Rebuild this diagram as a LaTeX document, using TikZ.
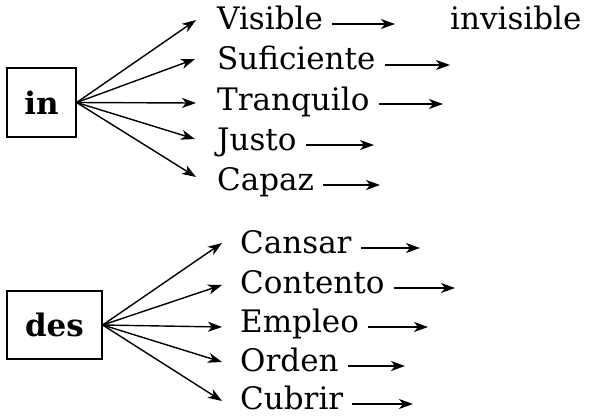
\documentclass[tikz,border=0pt]{standalone}
\usepackage{fontspec}
\setmainfont{DejaVu Serif}
\usetikzlibrary{arrows.meta}
\begin{document}
\begin{tikzpicture}[x=1pt,y=-1pt,
  wordlbl/.style={anchor=base west, inner sep=0pt, font=\fontsize{31}{36}\selectfont},
  prefbox/.style={draw, line width=1.3pt, inner sep=0pt, font=\fontsize{31}{36}\selectfont\bfseries},
  fanarr/.style={line width=1.4pt, -{Stealth[length=14pt,width=10pt,inset=4pt]}},
  shortarr/.style={line width=1.4pt, -{Stealth[length=14pt,width=10pt,inset=4pt]}}]
\useasboundingbox (0,0) rectangle (590,416);
% top group
\node[prefbox, minimum width=69pt, minimum height=69pt] (in) at (41.5,102.5) {in};
\coordinate (t1) at (196,20);
\coordinate (t2) at (195,59);
\coordinate (t3) at (196,103);
\coordinate (t4) at (195,139);
\coordinate (t5) at (196,177);
\foreach \i in {1,...,5} \draw[fanarr] (in.east) -- (t\i);
\node[wordlbl] (a1) at (217,29) {Visible};
\node[wordlbl] (a2) at (217,69) {Suficiente};
\node[wordlbl] (a3) at (217,110) {Tranquilo};
\node[wordlbl] (a4) at (217,150) {Justo};
\node[wordlbl] (a5) at (217,190) {Capaz};
\node[wordlbl] (inv) at (450,29) {invisible};
\coordinate (ae1) at (395,24);
\coordinate (ae2) at (450,65);
\coordinate (ae3) at (443,104);
\coordinate (ae4) at (374,145);
\coordinate (ae5) at (380,185);
\foreach \i in {1,...,5} \draw[shortarr] ([xshift=9pt]a\i.east |- ae\i) -- (ae\i);
% bottom group
\node[prefbox, minimum width=95pt, minimum height=68pt] (des) at (54.5,325) {des};
\coordinate (u1) at (222,243);
\coordinate (u2) at (222,285);
\coordinate (u3) at (222,327);
\coordinate (u4) at (222,362);
\coordinate (u5) at (222,401);
\foreach \i in {1,...,5} \draw[fanarr] (des.east) -- (u\i);
\node[wordlbl] (b1) at (240,253) {Cansar};
\node[wordlbl] (b2) at (240,293) {Contento};
\node[wordlbl] (b3) at (240,332) {Empleo};
\node[wordlbl] (b4) at (240,371) {Orden};
\node[wordlbl] (b5) at (240,409) {Cubrir};
\coordinate (be1) at (420,248);
\coordinate (be2) at (455,288);
\coordinate (be3) at (428,327);
\coordinate (be4) at (405,366);
\coordinate (be5) at (413,404);
\foreach \i in {1,...,5} \draw[shortarr] ([xshift=9pt]b\i.east |- be\i) -- (be\i);
\end{tikzpicture}
\end{document}
